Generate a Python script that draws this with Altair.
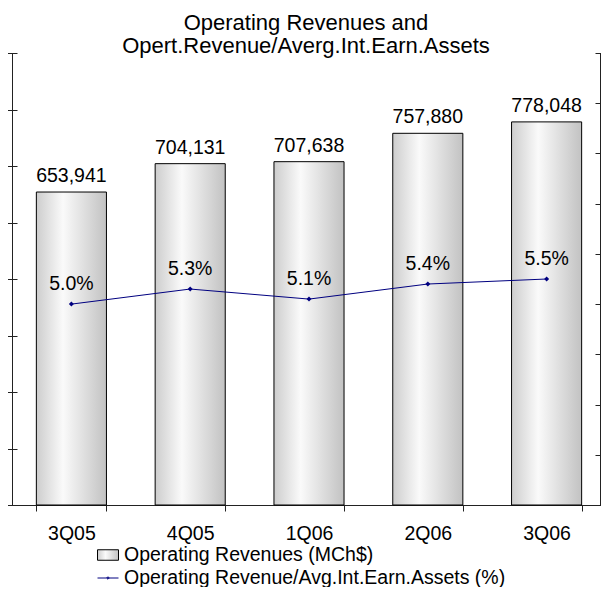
import altair as alt
import pandas as pd

quarters = ["3Q05", "4Q05", "1Q06", "2Q06", "3Q06"]
revenues = [653941, 704131, 707638, 757880, 778048]
ratios = [5.0, 5.3, 5.1, 5.4, 5.5]
rev_name = "Operating Revenues (MCh$)"
ratio_name = "Operating Revenue/Avg.Int.Earn.Assets (%)"
title_lines = ["Operating Revenues and", "Opert.Revenue/Averg.Int.Earn.Assets"]
rev_ticks = [100000, 200000, 300000, 400000, 500000, 600000, 700000, 800000, 900000]
ratio_ticks = [1, 2, 3, 4, 5, 6, 7, 8, 9, 10]

df = pd.DataFrame({
    "quarter": quarters,
    "rev": revenues,
    "ratio": ratios,
    "s1": [rev_name] * len(quarters),
    "s2": [ratio_name] * len(quarters),
})

FONT = "Liberation Sans"
AX = "#222222"
NAVY = "#000080"
W = 588   # visible plot width (page is narrow)
BAND_W = 594  # band range width of the category scale

GRAD_EXPR = ("({gradient: 'linear', x1: 0, y1: 0, x2: 1, y2: 0, stops: ["
             "{offset: 0, color: '#cdcdcd'}, {offset: 0.38, color: '#fafafa'}, "
             "{offset: 1, color: '#c2c2c2'}]})")

x = alt.X(
    "quarter:N", sort=quarters, title=None,
    scale=alt.Scale(paddingInner=0.41, paddingOuter=0.205, range=[0, BAND_W]),
    axis=alt.Axis(labelAngle=0, tickBand="extent", tickSize=6, labelPadding=13,
                  domainColor=AX, tickColor=AX, labelFontSize=19.5, labelColor="#000",
                  labelFont=FONT, grid=False),
)

rev_scale = alt.Scale(domain=[rev_ticks[0], rev_ticks[-1]], nice=False, zero=False, clamp=True)
ratio_scale = alt.Scale(domain=[ratio_ticks[0], ratio_ticks[-1]], nice=False, zero=False)

base = alt.Chart(df)

legend_common = dict(
    orient="none", title=None, padding=0, labelFont=FONT, labelFontSize=19.5,
    labelColor="#000", labelLimit=1000, labelOffset=5, symbolSize=441,
    symbolStrokeWidth=1, legendX=85,
)

bars = base.mark_bar(stroke="#000", strokeWidth=1).encode(
    x=x,
    y=alt.Y("rev:Q", scale=rev_scale, title=None,
            axis=alt.Axis(orient="left", ticks=False, labels=False, grid=False,
                          domain=True, domainColor=AX, title=None)),
    color=alt.Color("s1:N", scale=alt.Scale(domain=[rev_name], range=[{"expr": GRAD_EXPR}]),
                    legend=alt.Legend(symbolType="M-1,-0.5H1V0.5H-1Z",
                                      symbolStrokeColor="#000", legendY=491,
                                      **legend_common)),
)

bar_lbl = base.mark_text(dy=-10, baseline="alphabetic", fontSize=19.5, font=FONT,
                         color="#000").encode(
    x=x,
    y=alt.Y("rev:Q", scale=rev_scale, title=None,
            axis=alt.Axis(orient="left", offset=-5, tickSize=10, domain=False,
                          labels=False, grid=False, values=rev_ticks,
                          tickColor=AX, title=None)),
    text=alt.Text("rev:Q", format=","),
)

line = base.mark_line(strokeWidth=1).encode(
    x=x,
    y=alt.Y("ratio:Q", scale=ratio_scale, title=None,
            axis=alt.Axis(orient="right", ticks=False, labels=False, grid=False,
                          domain=True, domainColor=AX, title=None)),
    color=alt.Color("s2:N", scale=alt.Scale(domain=[ratio_name], range=[NAVY]),
                    legend=alt.Legend(symbolType="M-1,0H1M0,-0.12L0.12,0L0,0.12L-0.12,0Z",
                                      legendY=514, **legend_common)),
)

points = base.mark_point(shape="diamond", size=25, filled=True, color=NAVY,
                         opacity=1).encode(
    x=x,
    y=alt.Y("ratio:Q", scale=ratio_scale, axis=None),
)

line_lbl = base.transform_calculate(
    lbl="format(datum.ratio, '.1f') + '%'"
).mark_text(dy=-14, baseline="alphabetic", fontSize=19.5, font=FONT,
            color="#000").encode(
    x=x,
    y=alt.Y("ratio:Q", scale=ratio_scale, title=None,
            axis=alt.Axis(orient="right", offset=-5, tickSize=10, domain=False,
                          labels=False, grid=False, values=ratio_ticks,
                          tickColor=AX, title=None)),
    text="lbl:N",
)

chart = alt.layer(bars, bar_lbl, line, points, line_lbl).resolve_scale(
    y="independent", color="independent"
).properties(
    width=W, height=452,
    autosize=alt.AutoSizeParams(type="none"),
    padding={"left": 4, "top": 45, "right": 1, "bottom": 82},
    title=alt.Title(text=title_lines, fontSize=22, font=FONT, fontWeight="normal",
                    color="#000", anchor="middle", baseline="bottom", offset=-27,
                    lineHeight=23),
).configure_view(stroke=None)

chart.save("out.html", embed_options={"renderer": "svg", "actions": False})
